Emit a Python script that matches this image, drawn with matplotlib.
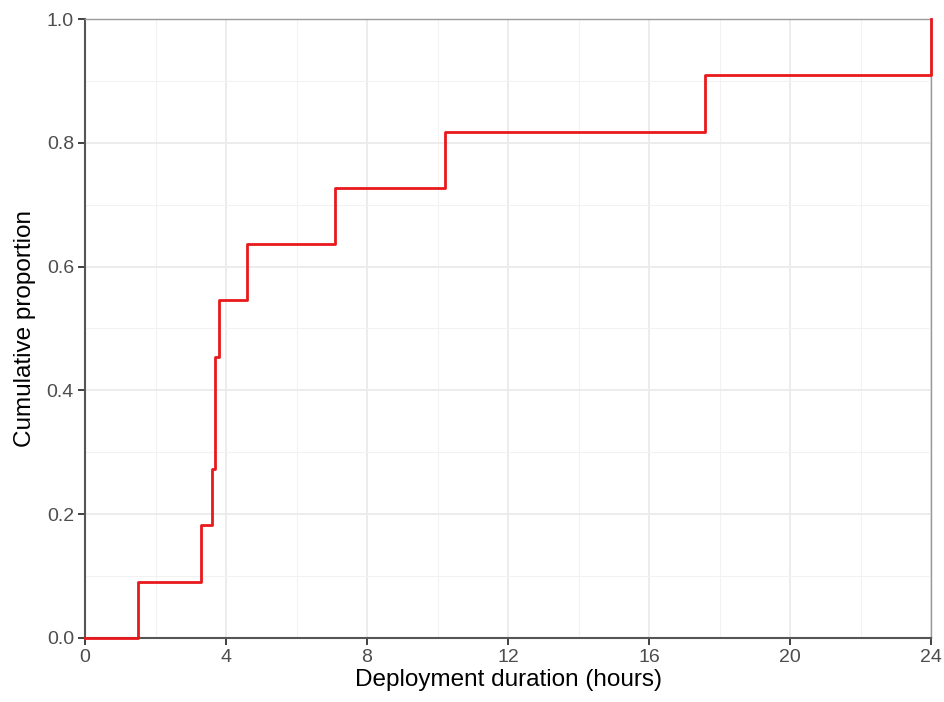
import numpy as np
import matplotlib
matplotlib.use('Agg')
import matplotlib.pyplot as plt

# deployment durations (hours)
durations = [1.5, 3.3, 3.6, 3.7, 3.7, 3.8, 4.6, 7.1, 10.2, 17.6, 24.0]
x_ticks = [0, 4, 8, 12, 16, 20, 24]
y_ticks = [0.0, 0.2, 0.4, 0.6, 0.8, 1.0]

plt.rcParams['font.family'] = ['Liberation Sans', 'DejaVu Sans']

d = np.sort(np.array(durations))
n = len(d)
xs = np.concatenate([[0.0], d])
ys = np.concatenate([[0.0], np.arange(1, n + 1) / n])

fig = plt.figure(figsize=(9.44, 7.02), dpi=100)
ax = fig.add_axes([85/944, 1 - 638/702, (931-85)/944, (638-19)/702])

ax.step(xs, ys, where='post', color='#E8181C', lw=2.0, zorder=4, clip_on=False)

ax.set_xlim(0, 24)
ax.set_ylim(0, 1)
ax.set_xticks(x_ticks)
ax.set_yticks(y_ticks)
ax.set_yticklabels([f'{v:.1f}' for v in y_ticks])
ax.set_xticks(np.arange(2, 24, 4), minor=True)
ax.set_yticks(np.arange(0.1, 1.0, 0.2), minor=True)
ax.grid(which='major', color='#EBEBEB', lw=1.3, zorder=0)
ax.grid(which='minor', color='#F2F2F2', lw=0.8, zorder=0)
ax.tick_params(which='minor', length=0)
ax.tick_params(which='major', length=5, width=1.3, color='#333333',
               labelsize=14, labelcolor='#4D4D4D', pad=3)

for s in ['top', 'right']:
    ax.spines[s].set_color('#999999')
    ax.spines[s].set_linewidth(1.0)
for s in ['left', 'bottom']:
    ax.spines[s].set_color('#555555')
    ax.spines[s].set_linewidth(1.5)

ax.set_xlabel('Deployment duration (hours)', fontsize=17.5, color='black', labelpad=2)
ax.set_ylabel('Cumulative proportion', fontsize=17.5, color='black', labelpad=8)

fig.savefig('out.png', dpi=100)
